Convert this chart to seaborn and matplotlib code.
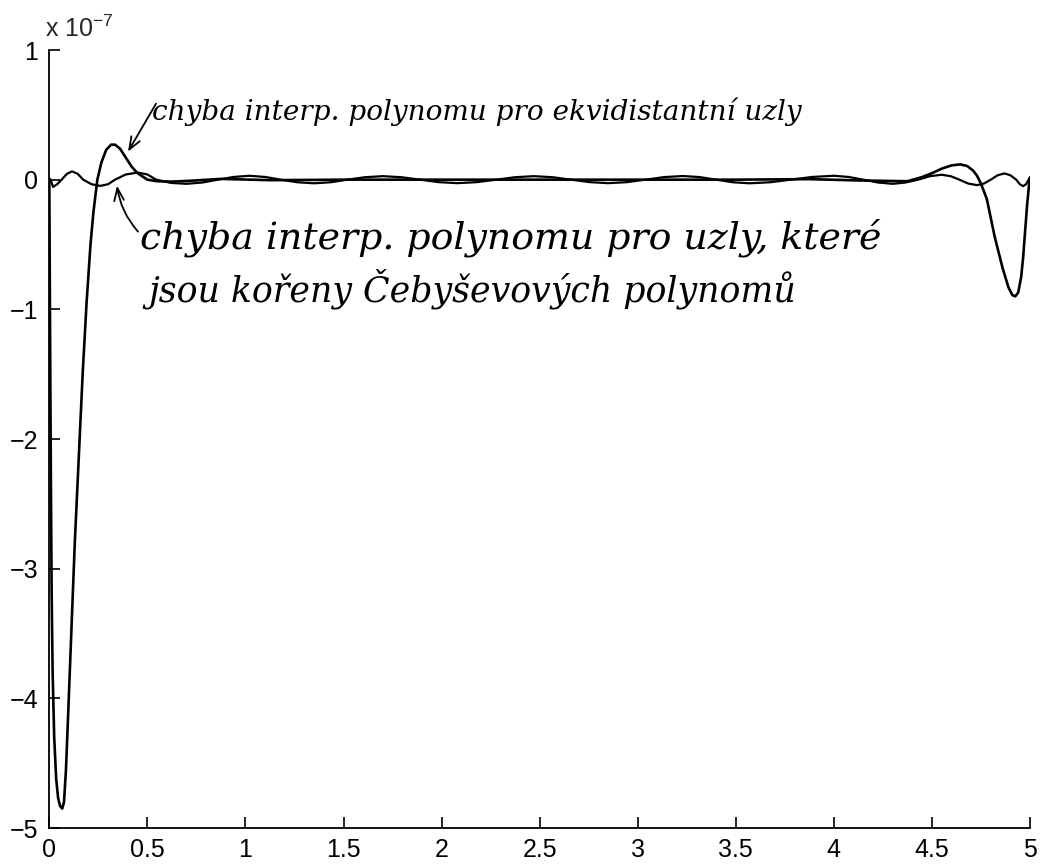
import numpy as np
import pandas as pd
import matplotlib
matplotlib.use("Agg")
import matplotlib.pyplot as plt
import seaborn as sns

# Interpolation error on [0, 5], values in units of 1e-7
x_equi = [0.0, 0.004, 0.008, 0.012, 0.017, 0.025, 0.035, 0.045, 0.055, 0.066,
          0.075, 0.085, 0.098, 0.112, 0.13, 0.15, 0.17, 0.19, 0.21, 0.225,
          0.245, 0.265, 0.29, 0.315, 0.335, 0.36, 0.39, 0.42, 0.45, 0.5,
          0.55, 0.625, 0.7, 0.875, 1.125, 1.5, 2.0, 2.5, 3.0, 3.5,
          3.875, 4.125, 4.375, 4.45, 4.5, 4.55, 4.6, 4.645, 4.68, 4.71,
          4.73, 4.75, 4.78, 4.82, 4.86, 4.89, 4.91, 4.925, 4.94, 4.955,
          4.965, 4.975, 4.985, 4.995, 5.0]
err_equi = [0.0, -1.2, -2.3, -3.2, -3.8, -4.3, -4.62, -4.77, -4.83, -4.85,
            -4.8, -4.55, -4.05, -3.5, -2.8, -2.15, -1.5, -0.95, -0.5, -0.25,
            0.0, 0.13, 0.23, 0.27, 0.27, 0.24, 0.17, 0.1, 0.05, 0.0,
            -0.012, -0.015, -0.01, 0.006, -0.004, 0.0, 0.0, 0.0, 0.0, 0.0,
            0.004, -0.006, -0.012, 0.02, 0.05, 0.085, 0.11, 0.118, 0.105, 0.07,
            0.03, -0.03, -0.15, -0.44, -0.68, -0.83, -0.89, -0.9, -0.87, -0.75,
            -0.6, -0.4, -0.2, -0.04, 0.0]

x_cheb = [0.0, 0.007, 0.019, 0.04, 0.063, 0.09, 0.116, 0.145, 0.173, 0.215,
          0.26, 0.3, 0.335, 0.39, 0.45, 0.5, 0.545, 0.62, 0.7, 0.78,
          0.86, 0.94, 1.02, 1.10, 1.18, 1.265, 1.35, 1.435, 1.52, 1.61,
          1.70, 1.795, 1.89, 1.985, 2.08, 2.18, 2.28, 2.375, 2.47, 2.565,
          2.66, 2.755, 2.85, 2.945, 3.04, 3.135, 3.23, 3.315, 3.4, 3.485,
          3.57, 3.675, 3.78, 3.89, 4.0, 4.075, 4.15, 4.225, 4.3, 4.365,
          4.43, 4.49, 4.55, 4.595, 4.64, 4.685, 4.73, 4.765, 4.8, 4.835,
          4.87, 4.9, 4.93, 4.948, 4.965, 4.98, 4.993, 5.0]
err_cheb = [0.01, 0.0, -0.056, -0.035, 0.0, 0.045, 0.064, 0.045, 0.0, -0.035,
            -0.048, -0.035, 0.0, 0.04, 0.055, 0.04, 0.0, -0.025, -0.032, -0.022,
            0.0, 0.021, 0.03, 0.021, 0.0, -0.02, -0.028, -0.02, 0.0, 0.019,
            0.027, 0.019, 0.0, -0.019, -0.027, -0.019, 0.0, 0.019, 0.027, 0.019,
            0.0, -0.019, -0.027, -0.019, 0.0, 0.02, 0.028, 0.02, 0.0, -0.02,
            -0.028, -0.02, 0.0, 0.021, 0.03, 0.021, 0.0, -0.022, -0.032, -0.022,
            0.0, 0.027, 0.038, 0.027, 0.0, -0.03, -0.042, -0.03, 0.0, 0.034,
            0.048, 0.034, 0.0, -0.035, -0.05, -0.035, 0.0, 0.02]

x_ticks = [0, 0.5, 1, 1.5, 2, 2.5, 3, 3.5, 4, 4.5, 5]
x_tick_labels = ["0", "0.5", "1", "1.5", "2", "2.5", "3", "3.5", "4", "4.5", "5"]
y_ticks = [-5, -4, -3, -2, -1, 0, 1]

note_equi = "chyba interp. polynomu pro ekvidistantní uzly"
note_cheb_1 = "chyba interp. polynomu pro uzly, které"
note_cheb_2 = "jsou kořeny Čebyševových polynomů"
scale_label = "x 10$^{-7}$"

sns.set_style("ticks")
plt.rcParams["font.family"] = ["Liberation Sans", "DejaVu Sans"]
plt.rcParams["mathtext.fontset"] = "custom"
plt.rcParams["mathtext.rm"] = "Liberation Sans"
plt.rcParams["mathtext.it"] = "Liberation Sans:italic"

W, H = 1041, 865
fig = plt.figure(figsize=(W / 100, H / 100), dpi=100)
fig.patch.set_facecolor("white")
ax = fig.add_axes([49.3 / W, 1 - 828 / H, (1030 - 49.3) / W, (828 - 50) / H])
ax.set_facecolor("white")

df_equi = pd.DataFrame({"x": x_equi, "err": err_equi})
df_cheb = pd.DataFrame({"x": x_cheb, "err": err_cheb})
sns.lineplot(data=df_cheb, x="x", y="err", ax=ax, color="black", lw=1.6,
             estimator=None, sort=False)
sns.lineplot(data=df_equi, x="x", y="err", ax=ax, color="black", lw=1.9,
             estimator=None, sort=False)

ax.set_xlim(0, 5)
ax.set_ylim(-5, 1)
ax.set_xticks(x_ticks)
ax.set_xticklabels(x_tick_labels)
ax.set_yticks(y_ticks)
ax.set_xlabel("")
ax.set_ylabel("")
for side in ("top", "right"):
    ax.spines[side].set_visible(False)
for side in ("left", "bottom"):
    ax.spines[side].set_linewidth(1.3)
    ax.spines[side].set_color("black")
ax.tick_params(axis="both", direction="in", length=8, width=1.2, colors="black",
               labelsize=18)
ax.tick_params(axis="x", pad=7)
ax.tick_params(axis="y", pad=8)

ax.text(-0.004, 1.017, scale_label, transform=ax.transAxes, fontsize=18,
        ha="left", va="baseline")

# handwritten-style notes with arrows
hand = dict(family=["DejaVu Serif", "Liberation Serif"], style="italic",
            color="black", va="baseline", ha="left")
arrow = dict(arrowstyle="->,head_length=0.9,head_width=0.35", lw=1.3,
             color="black", shrinkA=0, shrinkB=0)

def to_data(px, py):
    return (px - 49.3) / 196.1, (180 - py) / 129.7

fig.canvas.draw()
renderer = fig.canvas.get_renderer()

def fitted_text(px, py, s, width_px):
    t = ax.text(*to_data(px, py), s, fontsize=20, **hand)
    w = t.get_window_extent(renderer).width
    t.set_fontsize(20 * width_px / w)
    return t

fitted_text(152, 120, note_equi, 650)
fitted_text(140, 249, note_cheb_1, 742)
fitted_text(148, 302, note_cheb_2, 647)

ax.annotate("", xy=to_data(128, 152), xytext=to_data(156, 104), arrowprops=arrow)
ax.annotate("", xy=to_data(117, 186), xytext=to_data(138, 232),
            arrowprops=dict(arrow, connectionstyle="arc3,rad=-0.15"))

fig.savefig("out.png", dpi=100, facecolor="white")
